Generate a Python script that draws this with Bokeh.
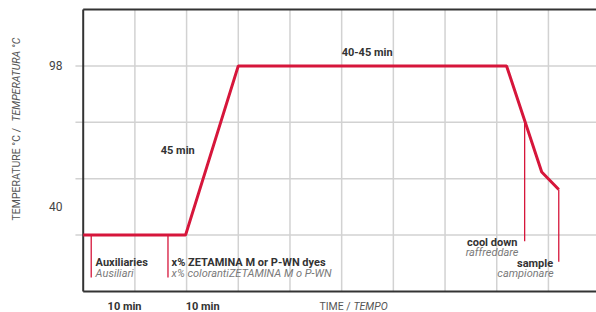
import math
from bokeh.plotting import figure
from bokeh.models import Label
from bokeh.embed import file_html
from bokeh.resources import INLINE

# ---- data (grid units: x = time steps, y = temperature steps) ----
time = [0, 1.98, 3.0, 8.19, 8.87, 9.2]
temp = [1, 1, 4, 4, 2.12, 1.81]

marker_names = ["Auxiliaries", "x% ZETAMINA", "cool down", "sample"]
marker_x = [0.155, 1.64, 8.54, 9.2]
marker_top = [1, 1, 3.03, 1.81]
marker_bottom = [0.25, 0.25, 0.89, 0.53]

y_tick_pos = [1.5, 4]
y_tick_labels = ["40", "98"]
grid_x = [1, 2, 3, 4, 5, 6, 7, 8, 9]
grid_y = [1, 2, 3, 4]

X_MIN, X_MAX = -1.6, 9.93
Y_MIN, Y_MAX = -0.372, 5.16
Y_TOP = 5.0

RED = "#d6163b"
FONT = "Roboto"
DARK = "#333333"
GREY = "#7a7a7a"

p = figure(width=596, height=312, output_backend="svg", toolbar_location=None,
           x_range=(X_MIN, X_MAX), y_range=(Y_MIN, Y_MAX),
           min_border_left=0, min_border_right=0, min_border_top=0, min_border_bottom=0)
p.outline_line_color = None
p.axis.visible = False
p.grid.visible = False

# grid lines
GRID = "#d2d2d2"
p.segment(x0=grid_x, y0=[0] * len(grid_x), x1=grid_x, y1=[Y_TOP] * len(grid_x),
          line_color=GRID, line_width=1.5)
p.segment(x0=[-0.15] * len(grid_y), y0=grid_y, x1=[X_MAX] * len(grid_y), y1=grid_y,
          line_color=GRID, line_width=1.5)

# frame lines (left, bottom, top)
p.segment(x0=[0, 0, 0], y0=[0, 0, Y_TOP], x1=[0, X_MAX, X_MAX], y1=[Y_TOP, 0, Y_TOP],
          line_color=DARK, line_width=2)

# marker lines
p.segment(x0=marker_x, y0=marker_top, x1=marker_x, y1=marker_bottom,
          line_color=RED, line_width=1.3)

# main curve
p.line(time, temp, line_color=RED, line_width=3)

def lab(x, y, text, bold=False, italic=False, color=DARK, align="left", size="11px", angle=0.0):
    style = "bold" if bold else ("italic" if italic else "normal")
    p.add_layout(Label(x=x, y=y, text=text, text_font=FONT, text_font_size=size,
                       text_font_style=style, text_color=color, text_align=align,
                       text_baseline="middle", angle=angle))

# y tick labels
for yv, t in zip(y_tick_pos, y_tick_labels):
    lab(-0.40, yv, t, color="#444444", align="right", size="12px")

# step labels
lab(0.24, 0.51, "Auxiliaries", bold=True)
lab(0.24, 0.32, "Ausiliari", italic=True, color=GREY)
lab(1.71, 0.51, "x% ZETAMINA M or P-WN dyes", bold=True)
lab(1.71, 0.32, "x% colorantiZETAMINA M o P-WN", italic=True, color=GREY)
lab(8.40, 0.87, "cool down", bold=True, align="right")
lab(8.42, 0.69, "raffreddare", italic=True, color=GREY, align="right")
lab(9.09, 0.50, "sample", bold=True, align="right")
lab(9.10, 0.32, "campionare", italic=True, color=GREY, align="right")
lab(1.50, 2.50, "45 min", bold=True)
lab(5.00, 4.24, "40-45 min", bold=True)

# under-axis labels
lab(0.80, -0.27, "10 min", bold=True, align="center")
lab(2.31, -0.27, "10 min", bold=True, align="center")
lab(4.57, -0.27, "TIME / ", color="#555555", size="10.5px")
lab(5.89, -0.27, "TEMPO", italic=True, color="#555555", align="right", size="10.5px")

# y axis title (rotated)
lab(-1.29, 1.26, "TEMPERATURE °C / ", color="#555555", size="10.5px", angle=math.pi / 2)
lab(-1.29, 4.50, "TEMPERATURA °C", italic=True, color="#555555", size="10.5px",
    align="right", angle=math.pi / 2)

open("out.html", "w").write(file_html(p, INLINE))
